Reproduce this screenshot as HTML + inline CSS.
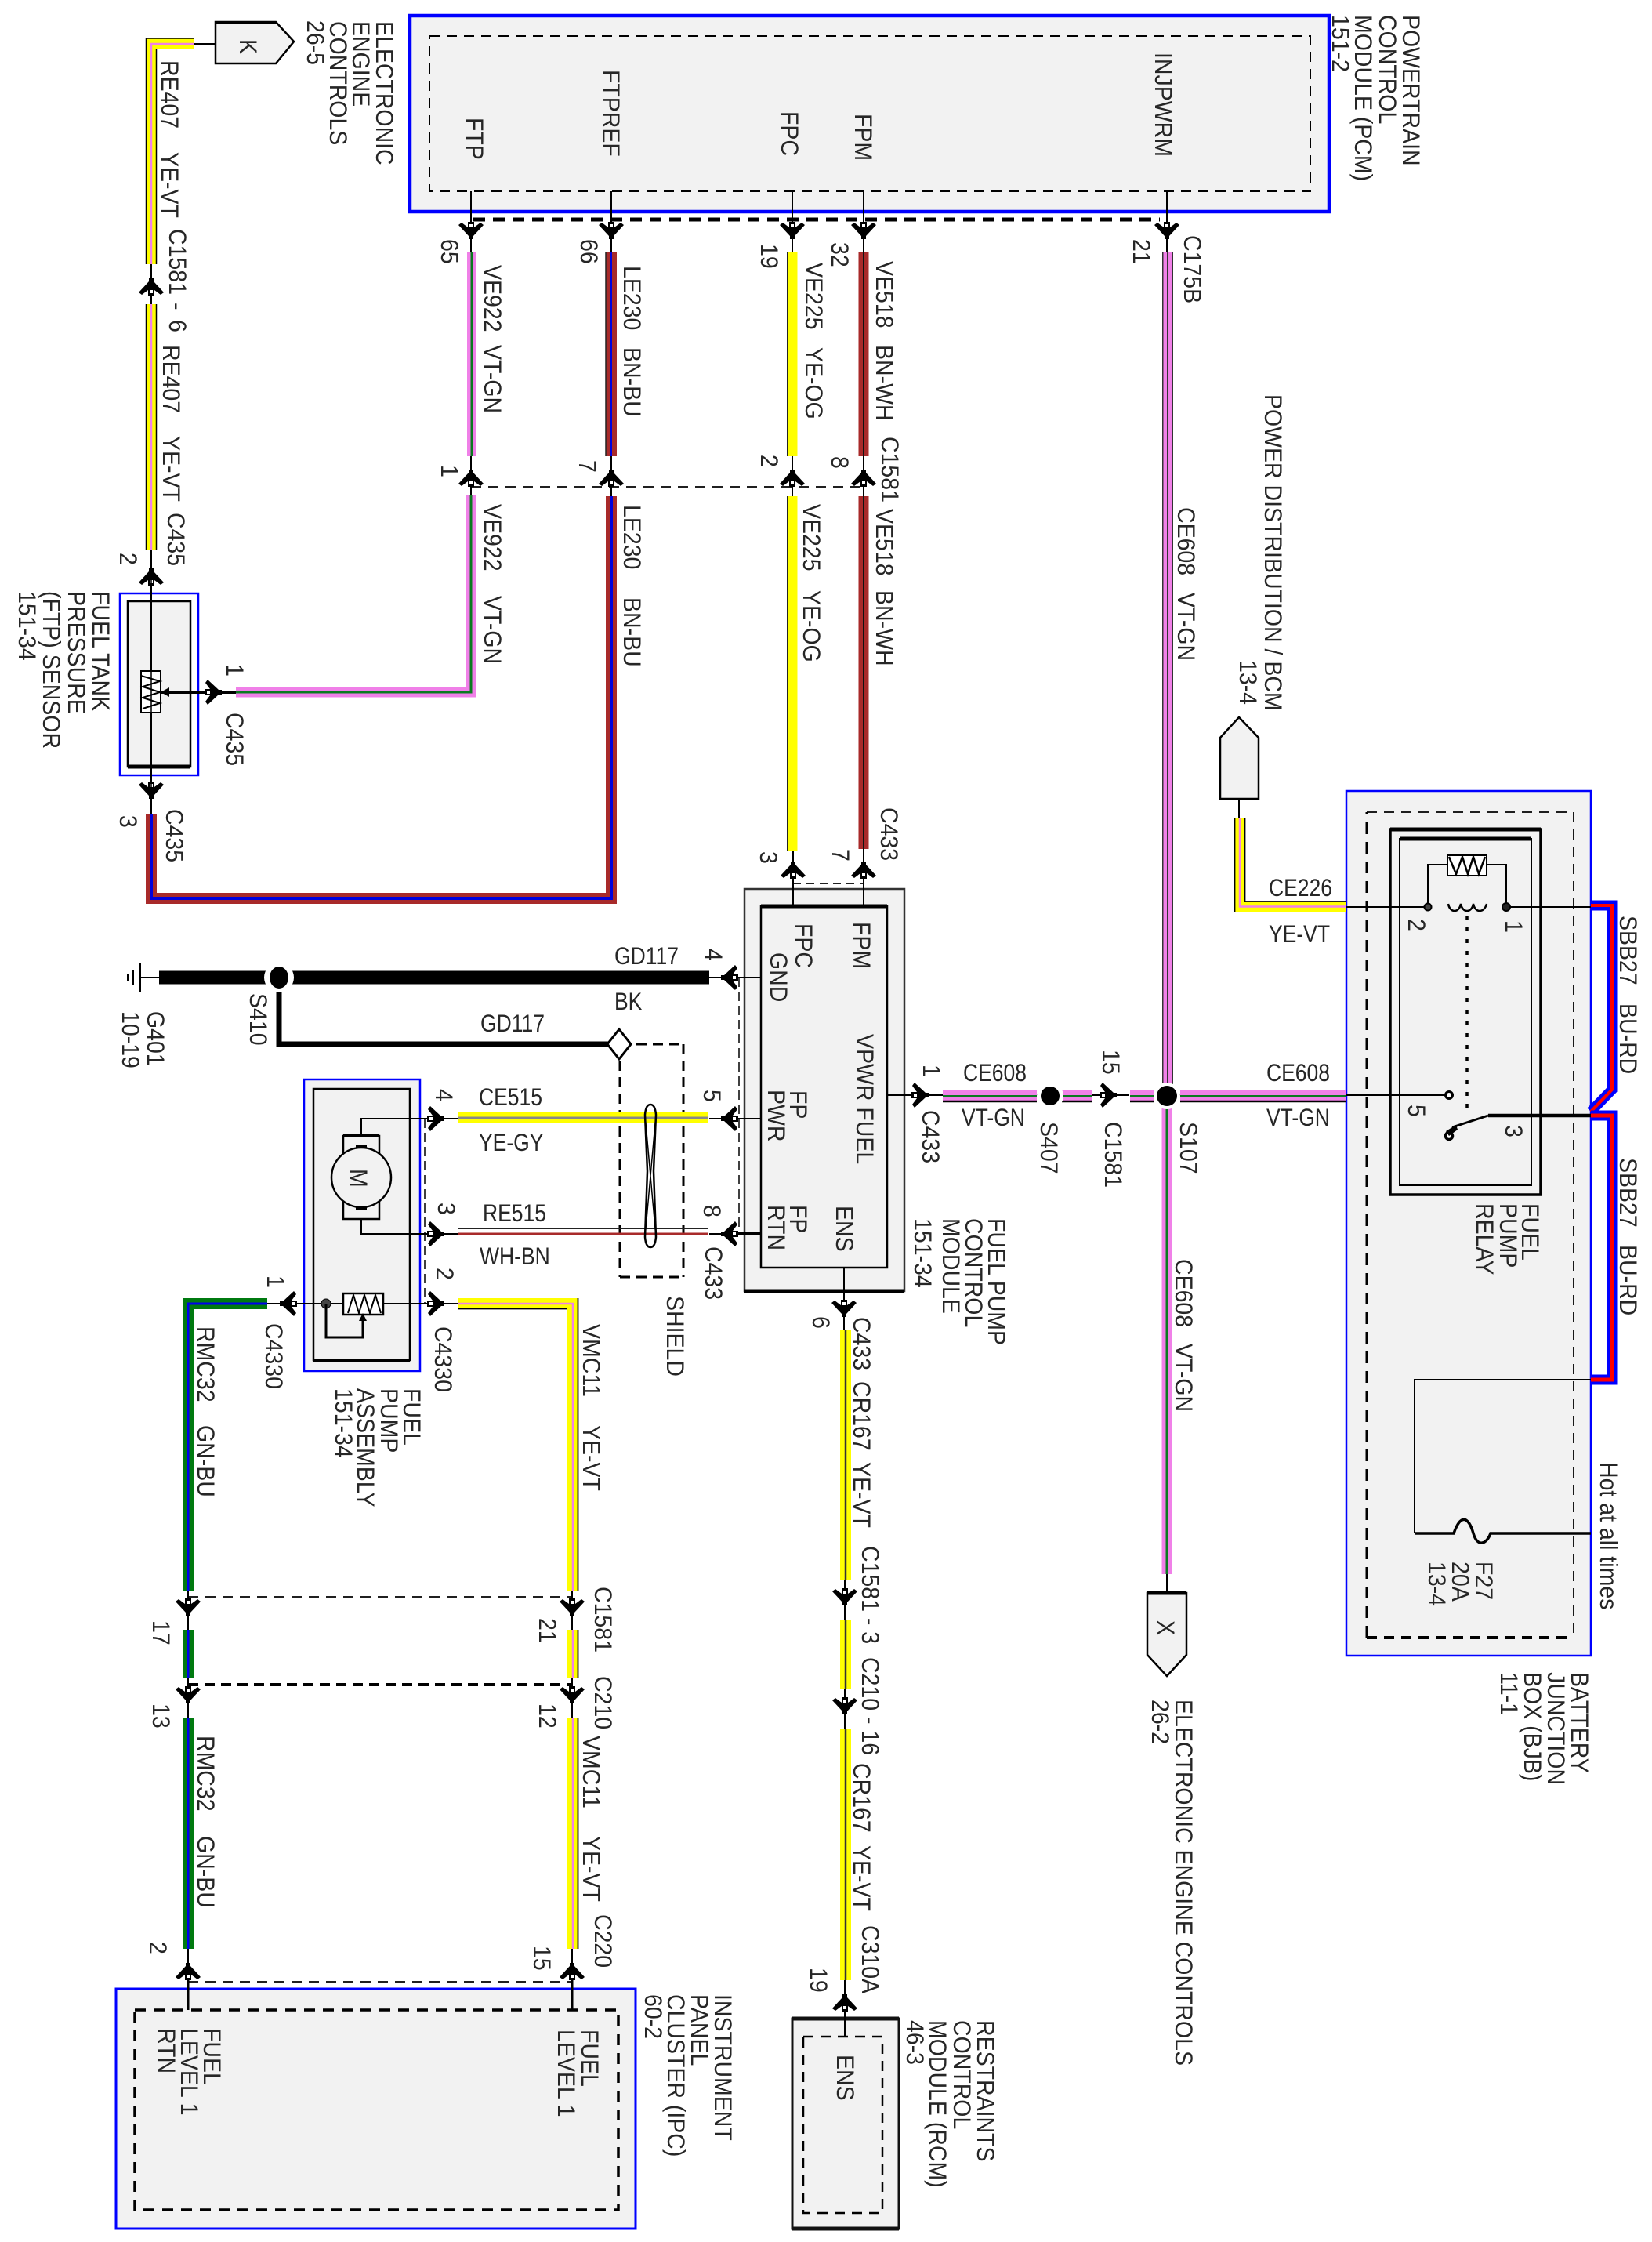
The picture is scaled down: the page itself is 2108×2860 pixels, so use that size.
<!DOCTYPE html>
<html><head><meta charset="utf-8"><style>
html,body{margin:0;padding:0;background:#fff}
svg{display:block}
text{font-family:"Liberation Sans",sans-serif;fill:#262626}
.r text{font-size:28.5px}
.h text{font-size:26.5px}
.n{fill:none}
.k{stroke:#000;fill:none}
</style></head><body>
<svg xmlns="http://www.w3.org/2000/svg" width="2108" height="2860" viewBox="0 0 2108 2860">
<defs>
<g id="a"><path d="M-16,-10 L-12,-13 L-4,-7 L-4,-14 L4,-14 L4,-7 L12,-13 L16,-10 L3,4 L3,8 L-3,8 L-3,4 Z" fill="#000"/><rect x="-2" y="-11" width="4" height="4" fill="#fff"/></g>
</defs>

<!-- Boxes -->
<rect x="523" y="20" width="1173" height="250" fill="#f2f2f2" stroke="#0000ff" stroke-width="4.5"/>
<rect x="548" y="46" width="1124" height="198" class="k" stroke-width="2" stroke-dasharray="13 9"/>
<path d="M275,28 H352 L375,53 L352,81 H275 Z" fill="#f2f2f2" stroke="#000" stroke-width="2.5"/>
<path d="M275,29 H352" stroke="#000" stroke-width="4"/>
<rect x="153" y="757" width="100" height="232" fill="#fff" stroke="#0000ff" stroke-width="2.5"/>
<rect x="163" y="767" width="80" height="211" fill="#f2f2f2" stroke="#000" stroke-width="2.5"/>
<path d="M163,978 H243" stroke="#000" stroke-width="5"/>
<rect x="950" y="1134" width="204" height="513" fill="#f2f2f2" stroke="#333" stroke-width="2.5"/>
<path d="M950,1647 H1154" stroke="#000" stroke-width="5"/>
<rect x="971" y="1156" width="161" height="461" fill="#f2f2f2" stroke="#000" stroke-width="2.5"/>
<path d="M971,1156 H1132" stroke="#000" stroke-width="5"/>
<rect x="388" y="1377" width="148" height="372" fill="#f2f2f2" stroke="#0000ff" stroke-width="2.5"/>
<rect x="400" y="1389" width="123" height="346" fill="#f2f2f2" stroke="#000" stroke-width="2.5"/>
<path d="M400,1735 H523" stroke="#000" stroke-width="4"/>
<rect x="1718" y="1009" width="312" height="1103" fill="#f2f2f2" stroke="#0000ff" stroke-width="2.5"/>
<path d="M1744,2089 V1036" class="k" stroke-width="3" stroke-dasharray="15 10"/>
<path d="M1744,1036 H2008 V2089" class="k" stroke-width="1.8" stroke-dasharray="13 9"/>
<path d="M1744,2089 H2008" class="k" stroke-width="4" stroke-dasharray="13 9"/>
<rect x="1774" y="1058" width="192" height="466" fill="#f2f2f2" stroke="#000" stroke-width="3.5"/>
<rect x="1786" y="1070" width="168" height="442" fill="#f2f2f2" stroke="#000" stroke-width="2"/>
<path d="M1774,1058 H1966" stroke="#000" stroke-width="5"/>
<path d="M1786,1070 H1954" stroke="#000" stroke-width="5"/>
<path d="M1557,1019 V941 L1581,915 L1606,941 V1019 Z" fill="#f2f2f2" stroke="#000" stroke-width="2.5"/>
<path d="M1464,2032 V2111 L1489,2138 L1514,2111 V2032 Z" fill="#f2f2f2" stroke="#000" stroke-width="2.5"/>
<path d="M1464,2032 H1514" stroke="#000" stroke-width="5"/>
<rect x="148" y="2537" width="663" height="306" fill="#f2f2f2" stroke="#0000ff" stroke-width="3"/>
<rect x="172" y="2564" width="617" height="255" class="k" stroke-width="3.5" stroke-dasharray="14 10"/>
<rect x="1011" y="2575" width="136" height="268" fill="#f2f2f2" stroke="#111" stroke-width="3"/>
<path d="M1011,2575 H1147 M1011,2843 H1147" stroke="#111" stroke-width="5"/>
<rect x="1025" y="2598" width="101" height="225" class="k" stroke-width="2.5" stroke-dasharray="13 9"/>

<!-- Dashed connector bars -->
<path d="M604,280 H1480" stroke-width="5" stroke-dasharray="15 10" class="k"/>
<path d="M601,621 H1102" stroke-width="1.8" stroke-dasharray="13 9" class="k"/>
<path d="M1012,1127 H1102" stroke-width="1.8" stroke-dasharray="10 7" class="k"/>
<path d="M943,1247 V1574" stroke-width="1.5" stroke-dasharray="12 6" class="k"/>
<path d="M542,1427 V1663" stroke-width="1.5" stroke-dasharray="12 6" class="k"/>
<path d="M240,2037 H730" stroke-width="1.8" stroke-dasharray="13 9" class="k"/>
<path d="M240,2149 H730" stroke-width="4" stroke-dasharray="13 8" class="k"/>
<path d="M240,2528 H730" stroke-width="1.8" stroke-dasharray="13 9" class="k"/>
<path d="M791,1332 V1629 M872,1332 V1629 M791,1332 H872 M791,1629 H872" stroke-width="3" stroke-dasharray="13 8" class="k"/>

<!-- thin stems -->
<g class="k" stroke-width="2">
<path d="M248,56 H275 M193,337 V388 M193,701 V1038"/>
<path d="M601,244 V321 M601,582 V631 M780,244 V321 M780,582 V633 M1011,244 V322 M1011,582 V633 M1102,244 V322 M1102,582 V633 M1489,244 V321"/>
<path d="M1012,1085 V1156 M1102,1083 V1156"/>
<path d="M1130,1397 H1203 M1323,1397 H1355 M1394,1397 H1441 M1473,1397 H1506"/>
<path d="M905,1247 H971 M905,1427 H971 M905,1574 H971"/>
<path d="M461,1449 V1427 H584 M461,1555 V1574 H584"/>
<path d="M341,1663 H585"/>
<path d="M1077,1617 V1697 M1078,2015 V2067 M1078,2155 V2206 M1078,2526 V2598"/>
<path d="M240,2030 V2079 M240,2141 V2192 M240,2486 V2564 M730,2030 V2079 M730,2141 V2192 M730,2486 V2564"/>
<path d="M1489,2008 V2032 M1581,1019 V1045"/>
<path d="M1717,1157 H1822 M1922,1157 H2030 M1717,1397 H1844"/>
<path d="M1805,1956 V1760 H2030"/>
<path d="M1822,1157 V1103 H1847 M1897,1103 H1922 V1157"/>
</g>
<path d="M240,2512 V2564 M730,2512 V2564" stroke="#000" stroke-width="3"/>
<path d="M205,883 H301" stroke="#000" stroke-width="4"/>
<path d="M928,1574 H971" stroke="#000" stroke-width="4"/>

<!-- Wires -->
<g fill="none" stroke-linejoin="miter">
<!-- RE407 -->
<path d="M248,56 H193 V337 M193,388 V701" stroke="#ffff00" stroke-width="14"/>
<path d="M248,56 H193 V337 M193,388 V701" stroke="#f080e8" stroke-width="2.5"/>
<path d="M248,49 H186.5 V337 M186.5,388 V701 M199.5,62 V337 M199.5,388 V701" stroke="#000" stroke-width="1.5"/>
<!-- VE922 -->
<path d="M602,321 V582" stroke="#f080e8" stroke-width="12"/><path d="M602,321 V582" stroke="#0a7a20" stroke-width="3"/>
<path d="M601,631 V883 H301" stroke="#f080e8" stroke-width="13"/><path d="M601,631 V883 H301" stroke="#0a7a20" stroke-width="3"/>
<!-- LE230 -->
<path d="M780,321 V582" stroke="#a82a2a" stroke-width="14"/><path d="M780,321 V582" stroke="#0000dd" stroke-width="2"/>
<path d="M773,321 V582" stroke="#222" stroke-width="1.5"/>
<path d="M193,1038 V1146 H780 V633" stroke="#a82a2a" stroke-width="14"/><path d="M193,1038 V1146 H780 V633" stroke="#0000dd" stroke-width="4"/>
<!-- VE225 -->
<path d="M1011,322 V582 M1011,633 V1085" stroke="#ffff00" stroke-width="13"/>
<path d="M1005,322 V582 M1005,633 V1085" stroke="#222" stroke-width="2"/>
<!-- VE518 -->
<path d="M1102,322 V582 M1102,633 V1083" stroke="#a82a2a" stroke-width="13"/><path d="M1102,322 V582 M1102,633 V1083" stroke="#111" stroke-width="2"/>
<!-- CE608 vertical -->
<path d="M1490,321 V1398" stroke="#333" stroke-width="14"/><path d="M1490,321 V1398" stroke="#f080e8" stroke-width="11"/><path d="M1490,321 V1398" stroke="#333" stroke-width="2"/>
<path d="M1489,1398 V2008" stroke="#f080e8" stroke-width="13"/><path d="M1489,1398 V2008" stroke="#0a7a20" stroke-width="3"/>
<!-- CE608 horizontal -->
<path d="M1203,1397.5 H1323 M1355,1397.5 H1394 M1442,1397.5 H1473 M1506,1397.5 H1717" stroke="#f080e8" stroke-width="13"/>
<path d="M1203,1398 H1323 M1355,1398 H1394 M1442,1398 H1473 M1506,1398 H1717" stroke="#0a7a20" stroke-width="2"/>
<path d="M1203,1405 H1323 M1355,1405 H1394 M1442,1405 H1473 M1506,1405 H1717" stroke="#000" stroke-width="2.5"/>
<!-- GD117 -->
<path d="M203,1247 H905" stroke="#000" stroke-width="17"/>
<path d="M356,1247 V1332 H791" stroke="#000" stroke-width="7"/>
<!-- CE515 -->
<path d="M584,1426 H904" stroke="#ffff00" stroke-width="14"/><path d="M584,1426 H904" stroke="#888" stroke-width="3"/>
<!-- RE515 -->
<path d="M584,1567 H904" stroke="#222" stroke-width="2"/><path d="M584,1574 H904" stroke="#a82a2a" stroke-width="3"/>
<!-- RMC32 -->
<path d="M341,1663 H240 V2030 M240,2079 V2141 M240,2192 V2486" stroke="#007a10" stroke-width="14"/>
<path d="M341,1663 H240 V2030 M240,2079 V2141 M240,2192 V2486" stroke="#0000ee" stroke-width="3"/>
<!-- VMC11 -->
<path d="M585,1663 H731 V2030 M731,2079 V2141 M731,2192 V2486" stroke="#ffff00" stroke-width="14"/>
<path d="M585,1663 H731 V2030 M731,2079 V2141 M731,2192 V2486" stroke="#f080e8" stroke-width="2.5"/>
<path d="M585,1669.5 H724 M737.5,1656 V2030 M737.5,2079 V2141 M737.5,2192 V2486" stroke="#000" stroke-width="1.8"/>
<!-- CR167 -->
<path d="M1079,1697 V2015 M1079,2067 V2155 M1079,2206 V2526" stroke="#ffff00" stroke-width="14"/>
<path d="M1079,1697 V2015 M1079,2067 V2155 M1079,2206 V2526" stroke="#333" stroke-width="2.5"/>
<!-- CE226 -->
<path d="M1582,1043 V1156.5 H1717" stroke="#ffff00" stroke-width="13"/>
<path d="M1582,1043 V1156.5 H1717" stroke="#f080e8" stroke-width="2.5"/>
<path d="M1575.5,1043 V1163 M1588.5,1043 V1150 H1717" stroke="#000" stroke-width="1.8"/>
<!-- SBB27 -->
<path d="M2030,1155 H2057 V1390 L2030,1418" stroke="#0000ff" stroke-width="13"/><path d="M2030,1155 H2057 V1390 L2030,1418" stroke="#ff0000" stroke-width="4"/>
<path d="M2030,1423 H2057 V1760 H2030" stroke="#0000ff" stroke-width="13"/><path d="M2030,1423 H2057 V1760 H2030" stroke="#ff0000" stroke-width="5"/>
</g>

<!-- Splices -->
<circle cx="356" cy="1247" r="19" fill="#fff"/><ellipse cx="356" cy="1247" rx="12" ry="14" fill="#000"/>
<circle cx="1340" cy="1398" r="17" fill="#fff"/><circle cx="1340" cy="1398" r="12" fill="#000"/>
<circle cx="1489" cy="1398" r="17" fill="#fff"/><circle cx="1489" cy="1398" r="13" fill="#000"/>
<path d="M790,1313 L805,1332 L790,1351 L775,1332 Z" fill="#fff" stroke="#000" stroke-width="3"/>

<!-- Ground -->
<path d="M179,1247 H203 M179,1228 V1265 M170,1237 V1257 M163,1242 V1252" stroke="#000" stroke-width="2" fill="none"/>

<!-- Connector arrows -->
<use href="#a" transform="translate(601,297)"/><use href="#a" transform="translate(780,297)"/>
<use href="#a" transform="translate(1011,297)"/><use href="#a" transform="translate(1102,297)"/><use href="#a" transform="translate(1489,297)"/>
<use href="#a" transform="translate(193,363) rotate(180)"/><use href="#a" transform="translate(193,733) rotate(180)"/>
<use href="#a" transform="translate(601,607) rotate(180)"/><use href="#a" transform="translate(780,607) rotate(180)"/>
<use href="#a" transform="translate(1011,607) rotate(180)"/><use href="#a" transform="translate(1102,607) rotate(180)"/>
<use href="#a" transform="translate(193,1011)"/>
<use href="#a" transform="translate(1012,1107) rotate(180)"/><use href="#a" transform="translate(1102,1107) rotate(180)"/>
<use href="#a" transform="translate(928,1247) rotate(90)"/><use href="#a" transform="translate(928,1427) rotate(90)"/><use href="#a" transform="translate(928,1574) rotate(90)"/>
<use href="#a" transform="translate(559,1427) rotate(-90)"/><use href="#a" transform="translate(559,1574) rotate(-90)"/><use href="#a" transform="translate(559,1663) rotate(-90)"/>
<use href="#a" transform="translate(365,1663) rotate(90)"/>
<use href="#a" transform="translate(275,883) rotate(-90)"/>
<use href="#a" transform="translate(1077,1672)"/>
<use href="#a" transform="translate(1078,2040)"/><use href="#a" transform="translate(1078,2179)"/><use href="#a" transform="translate(1078,2552) rotate(180)"/>
<use href="#a" transform="translate(240,2053)"/><use href="#a" transform="translate(240,2165)"/><use href="#a" transform="translate(240,2512) rotate(180)"/>
<use href="#a" transform="translate(730,2053)"/><use href="#a" transform="translate(730,2165)"/><use href="#a" transform="translate(730,2512) rotate(180)"/>
<use href="#a" transform="translate(1177,1397) rotate(-90)"/><use href="#a" transform="translate(1417,1397) rotate(-90)"/>
<path d="M205,883 L216,877 V889 Z" fill="#000"/>

<!-- FTP resistor -->
<rect x="180" y="856" width="25" height="53" fill="#fff" stroke="#000" stroke-width="2"/>
<path d="M180,862 L204,869 L182,876 L204,883 L182,890 L204,897 L182,904" class="k" stroke-width="2"/>
<path d="M193,733 V1011" stroke="#000" stroke-width="1.5"/>

<!-- Motor -->
<rect x="438" y="1449" width="46" height="106" fill="#f2f2f2" stroke="#000" stroke-width="2.5"/>
<path d="M438,1449 H484" stroke="#000" stroke-width="4"/>
<circle cx="461" cy="1502" r="38" fill="#f2f2f2" stroke="#000" stroke-width="2.5"/>
<rect x="454" y="1460" width="14" height="4" fill="#000"/><rect x="454" y="1540" width="14" height="4" fill="#000"/>

<!-- Pump sender -->
<rect x="438" y="1650" width="51" height="27" fill="#fff" stroke="#000" stroke-width="2.5"/>
<path d="M444,1675 L451,1652 L458,1675 L465,1652 L472,1675 L479,1652 L486,1675" class="k" stroke-width="2"/>
<circle cx="416" cy="1663" r="6" fill="#444" stroke="#000"/>
<path d="M416,1663 V1706 H463 V1680" class="k" stroke-width="3"/>
<path d="M463,1675 L458,1685 H468 Z" fill="#000"/>

<!-- Shield twist -->
<path d="M823,1422 Q824,1409 830,1409 Q836,1409 837,1422 L834,1494 L837,1578 Q836,1591 830,1591 Q824,1591 823,1578 L826,1494 Z" class="k" stroke-width="2.5"/>
<path d="M823,1422 L837,1578 M837,1422 L823,1578" class="k" stroke-width="1.5"/>

<!-- Relay -->
<rect x="1847" y="1091" width="50" height="26" fill="#fff" stroke="#000" stroke-width="2"/>
<path d="M1849,1093 L1858,1115 L1866,1093 L1873,1115 L1880,1093 L1887,1115 L1895,1093" class="k" stroke-width="2.5"/>
<circle cx="1822" cy="1157" r="4.5" fill="#444" stroke="#000" stroke-width="2"/><circle cx="1922" cy="1157" r="5" fill="#222" stroke="#000" stroke-width="2"/>
<path d="M1848,1153 C1850,1165 1862,1165 1864,1153 C1866,1165 1878,1165 1880,1153 C1882,1165 1894,1165 1897,1153" class="k" stroke-width="2.5"/>
<path d="M1872,1168 V1418" class="k" stroke-width="3.5" stroke-dasharray="5 10"/>
<circle cx="1849" cy="1397" r="4.5" fill="#fff" stroke="#000" stroke-width="3"/>
<circle cx="1849" cy="1449" r="4.5" fill="#fff" stroke="#000" stroke-width="3.5"/>
<path d="M1853,1438 L1899,1423" class="k" stroke-width="3"/>
<path d="M1899,1423 H2030" class="k" stroke-width="4.5"/>
<path d="M1845,1443 L1858,1435 L1860,1441 L1849,1449 Z" fill="#000"/>

<!-- Fuse -->
<path d="M1806,1956 H1855 C1864,1930 1874,1935 1880,1956 C1886,1976 1898,1968 1902,1956 H2030" class="k" stroke-width="3.5"/>

<!-- Rotated text -->
<g class="r">
<text transform="matrix(0 1 -1.12 0 480 27)">ELECTRONIC</text>
<text transform="matrix(0 1 -1.12 0 450 27)">ENGINE</text>
<text transform="matrix(0 1 -1.12 0 421 27)">CONTROLS</text>
<text transform="matrix(0 1 -1.12 0 392 26)">26-5</text>
<text transform="matrix(0 1 -1.12 0 306 50)">K</text>
<text transform="matrix(0 1 -1.12 0 595 150)">FTP</text>
<text transform="matrix(0 1 -1.12 0 769 89)">FTPREF</text>
<text transform="matrix(0 1 -1.12 0 997 142)">FPC</text>
<text transform="matrix(0 1 -1.12 0 1091 145)">FPM</text>
<text transform="matrix(0 1 -1.12 0 1474 67)">INJPWRM</text>
<text transform="matrix(0 1 -1.12 0 1790 19)">POWERTRAIN</text>
<text transform="matrix(0 1 -1.12 0 1760 19)">CONTROL</text>
<text transform="matrix(0 1 -1.12 0 1729 19)">MODULE (PCM)</text>
<text transform="matrix(0 1 -1.12 0 1700 19)">151-2</text>

<text transform="matrix(0 1 -1.12 0 206 77)">RE407</text>
<text transform="matrix(0 1 -1.12 0 206 194)">YE-VT</text>
<text transform="matrix(0 1 -1.12 0 216 292)">C1581</text>
<text transform="matrix(0 1 -1.12 0 216 386)">-</text>
<text transform="matrix(0 1 -1.12 0 216 408)">6</text>
<text transform="matrix(0 1 -1.12 0 208 440)">RE407</text>
<text transform="matrix(0 1 -1.12 0 208 556)">YE-VT</text>
<text transform="matrix(0 1 -1.12 0 214 654)">C435</text>
<text transform="matrix(0 1 -1.12 0 153 705)">2</text>

<text transform="matrix(0 1 -1.12 0 563 305)">65</text>
<text transform="matrix(0 1 -1.12 0 741 305)">66</text>
<text transform="matrix(0 1 -1.12 0 971 311)">19</text>
<text transform="matrix(0 1 -1.12 0 1061 309)">32</text>
<text transform="matrix(0 1 -1.12 0 1446 305)">21</text>
<text transform="matrix(0 1 -1.12 0 1511 300)">C175B</text>
<text transform="matrix(0 1 -1.12 0 618 338)">VE922</text>
<text transform="matrix(0 1 -1.12 0 618 440)">VT-GN</text>
<text transform="matrix(0 1 -1.12 0 796 339)">LE230</text>
<text transform="matrix(0 1 -1.12 0 796 443)">BN-BU</text>
<text transform="matrix(0 1 -1.12 0 1028 335)">VE225</text>
<text transform="matrix(0 1 -1.12 0 1028 443)">YE-OG</text>
<text transform="matrix(0 1 -1.12 0 1118 333)">VE518</text>
<text transform="matrix(0 1 -1.12 0 1118 440)">BN-WH</text>
<text transform="matrix(0 1 -1.12 0 1125 557)">C1581</text>
<text transform="matrix(0 1 -1.12 0 563 593)">1</text>
<text transform="matrix(0 1 -1.12 0 739 587)">7</text>
<text transform="matrix(0 1 -1.12 0 971 580)">2</text>
<text transform="matrix(0 1 -1.12 0 1061 582)">8</text>
<text transform="matrix(0 1 -1.12 0 618 643)">VE922</text>
<text transform="matrix(0 1 -1.12 0 618 760)">VT-GN</text>
<text transform="matrix(0 1 -1.12 0 796 644)">LE230</text>
<text transform="matrix(0 1 -1.12 0 796 762)">BN-BU</text>
<text transform="matrix(0 1 -1.12 0 1025 643)">VE225</text>
<text transform="matrix(0 1 -1.12 0 1025 753)">YE-OG</text>
<text transform="matrix(0 1 -1.12 0 1118 649)">VE518</text>
<text transform="matrix(0 1 -1.12 0 1118 753)">BN-WH</text>
<text transform="matrix(0 1 -1.12 0 1503 647)">CE608</text>
<text transform="matrix(0 1 -1.12 0 1503 756)">VT-GN</text>
<text transform="matrix(0 1 -1.12 0 1614 503)">POWER DISTRIBUTION / BCM</text>
<text transform="matrix(0 1 -1.12 0 1582 842)">13-4</text>

<text transform="matrix(0 1 -1.12 0 118 754)">FUEL TANK</text>
<text transform="matrix(0 1 -1.12 0 87 754)">PRESSURE</text>
<text transform="matrix(0 1 -1.12 0 55 754)">(FTP) SENSOR</text>
<text transform="matrix(0 1 -1.12 0 24 754)">151-34</text>
<text transform="matrix(0 1 -1.12 0 289 847)">1</text>
<text transform="matrix(0 1 -1.12 0 289 909)">C435</text>
<text transform="matrix(0 1 -1.12 0 212 1032)">C435</text>
<text transform="matrix(0 1 -1.12 0 153 1040)">3</text>
<text transform="matrix(0 1 -1.12 0 970 1086)">3</text>
<text transform="matrix(0 1 -1.12 0 1062 1083)">7</text>
<text transform="matrix(0 1 -1.12 0 1124 1030)">C433</text>

<text transform="matrix(0 1 -1.12 0 1015 1178)">FPC</text>
<text transform="matrix(0 1 -1.12 0 983 1215)">GND</text>
<text transform="matrix(0 1 -1.12 0 1089 1176)">FPM</text>
<text transform="matrix(0 1 -1.12 0 1093 1319)">VPWR FUEL</text>
<text transform="matrix(0 1 -1.12 0 1008 1391)">FP</text>
<text transform="matrix(0 1 -1.12 0 980 1390)">PWR</text>
<text transform="matrix(0 1 -1.12 0 1008 1537)">FP</text>
<text transform="matrix(0 1 -1.12 0 980 1537)">RTN</text>
<text transform="matrix(0 1 -1.12 0 1067 1538)">ENS</text>

<text transform="matrix(0 1 -1.12 0 900 1210)">4</text>
<text transform="matrix(0 1 -1.12 0 556 1389)">4</text>
<text transform="matrix(0 1 -1.12 0 898 1390)">5</text>
<text transform="matrix(0 1 -1.12 0 559 1534)">3</text>
<text transform="matrix(0 1 -1.12 0 898 1537)">8</text>
<text transform="matrix(0 1 -1.12 0 900 1590)">C433</text>
<text transform="matrix(0 1 -1.12 0 557 1617)">2</text>
<text transform="matrix(0 1 -1.12 0 341 1627)">1</text>
<text transform="matrix(0 1 -1.12 0 339 1688)">C4330</text>
<text transform="matrix(0 1 -1.12 0 555 1692)">C4330</text>
<text transform="matrix(0 1 -1.12 0 252 1692)">RMC32</text>
<text transform="matrix(0 1 -1.12 0 252 1818)">GN-BU</text>
<text transform="matrix(0 1 -1.12 0 744 1689)">VMC11</text>
<text transform="matrix(0 1 -1.12 0 744 1818)">YE-VT</text>
<text transform="matrix(0 1 -1.12 0 851 1653)">SHIELD</text>
<text transform="matrix(0 1 -1.12 0 319 1267)">S410</text>
<text transform="matrix(0 1 -1.12 0 188 1290)">G401</text>
<text transform="matrix(0 1 -1.12 0 156 1290)">10-19</text>
<text transform="matrix(0 1 -1.12 0 447 1491)">M</text>
<text transform="matrix(0 1 -1.12 0 515 1771)">FUEL</text>
<text transform="matrix(0 1 -1.12 0 486 1771)">PUMP</text>
<text transform="matrix(0 1 -1.12 0 456 1771)">ASSEMBLY</text>
<text transform="matrix(0 1 -1.12 0 428 1771)">151-34</text>

<text transform="matrix(0 1 -1.12 0 1037 1679)">6</text>
<text transform="matrix(0 1 -1.12 0 1089 1680)">C433</text>
<text transform="matrix(0 1 -1.12 0 1089 1762)">CR167</text>
<text transform="matrix(0 1 -1.12 0 1089 1865)">YE-VT</text>
<text transform="matrix(0 1 -1.12 0 1100 1972)">C1581 - 3</text>
<text transform="matrix(0 1 -1.12 0 1100 2114)">C210 - 16</text>
<text transform="matrix(0 1 -1.12 0 1089 2249)">CR167</text>
<text transform="matrix(0 1 -1.12 0 1089 2354)">YE-VT</text>
<text transform="matrix(0 1 -1.12 0 1100 2456)">C310A</text>
<text transform="matrix(0 1 -1.12 0 1034 2510)">19</text>
<text transform="matrix(0 1 -1.12 0 195 2067)">17</text>
<text transform="matrix(0 1 -1.12 0 195 2173)">13</text>
<text transform="matrix(0 1 -1.12 0 191 2477)">2</text>
<text transform="matrix(0 1 -1.12 0 688 2064)">21</text>
<text transform="matrix(0 1 -1.12 0 688 2173)">12</text>
<text transform="matrix(0 1 -1.12 0 681 2482)">15</text>
<text transform="matrix(0 1 -1.12 0 759 2024)">C1581</text>
<text transform="matrix(0 1 -1.12 0 759 2138)">C210</text>
<text transform="matrix(0 1 -1.12 0 744 2214)">VMC11</text>
<text transform="matrix(0 1 -1.12 0 744 2342)">YE-VT</text>
<text transform="matrix(0 1 -1.12 0 759 2442)">C220</text>
<text transform="matrix(0 1 -1.12 0 252 2214)">RMC32</text>
<text transform="matrix(0 1 -1.12 0 252 2342)">GN-BU</text>

<text transform="matrix(0 1 -1.12 0 260 2587)">FUEL</text>
<text transform="matrix(0 1 -1.12 0 231 2587)">LEVEL 1</text>
<text transform="matrix(0 1 -1.12 0 202 2587)">RTN</text>
<text transform="matrix(0 1 -1.12 0 742 2589)">FUEL</text>
<text transform="matrix(0 1 -1.12 0 712 2589)">LEVEL 1</text>
<text transform="matrix(0 1 -1.12 0 912 2544)">INSTRUMENT</text>
<text transform="matrix(0 1 -1.12 0 882 2544)">PANEL</text>
<text transform="matrix(0 1 -1.12 0 852 2544)">CLUSTER (IPC)</text>
<text transform="matrix(0 1 -1.12 0 823 2544)">60-2</text>
<text transform="matrix(0 1 -1.12 0 1068 2621)">ENS</text>
<text transform="matrix(0 1 -1.12 0 1247 2577)">RESTRAINTS</text>
<text transform="matrix(0 1 -1.12 0 1217 2577)">CONTROL</text>
<text transform="matrix(0 1 -1.12 0 1186 2577)">MODULE (RCM)</text>
<text transform="matrix(0 1 -1.12 0 1157 2577)">46-3</text>
<text transform="matrix(0 1 -1.12 0 1477 2067)">X</text>
<text transform="matrix(0 1 -1.12 0 1500 2168)">ELECTRONIC ENGINE CONTROLS</text>
<text transform="matrix(0 1 -1.12 0 1470 2168)">26-2</text>

<text transform="matrix(0 1 -1.12 0 1883 1992)">F27</text>
<text transform="matrix(0 1 -1.12 0 1853 1992)">20A</text>
<text transform="matrix(0 1 -1.12 0 1823 1992)">13-4</text>
<text transform="matrix(0 1 -1.12 0 2042 1865)">Hot at all times</text>
<text transform="matrix(0 1 -1.12 0 2005 2133)">BATTERY</text>
<text transform="matrix(0 1 -1.12 0 1975 2133)">JUNCTION</text>
<text transform="matrix(0 1 -1.12 0 1945 2133)">BOX (BJB)</text>
<text transform="matrix(0 1 -1.12 0 1915 2133)">11-1</text>

<text transform="matrix(0 1 -1.12 0 1178 1358)">1</text>
<text transform="matrix(0 1 -1.12 0 1177 1416)">C433</text>
<text transform="matrix(0 1 -1.12 0 1328 1431)">S407</text>
<text transform="matrix(0 1 -1.12 0 1407 1339)">15</text>
<text transform="matrix(0 1 -1.12 0 1410 1431)">C1581</text>
<text transform="matrix(0 1 -1.12 0 1506 1431)">S107</text>
<text transform="matrix(0 1 -1.12 0 1500 1606)">CE608</text>
<text transform="matrix(0 1 -1.12 0 1500 1714)">VT-GN</text>
<text transform="matrix(0 1 -1.12 0 1261 1554)">FUEL PUMP</text>
<text transform="matrix(0 1 -1.12 0 1232 1554)">CONTROL</text>
<text transform="matrix(0 1 -1.12 0 1203 1554)">MODULE</text>
<text transform="matrix(0 1 -1.12 0 1167 1554)">151-34</text>
<text transform="matrix(0 1 -1.12 0 1797 1172)">2</text>
<text transform="matrix(0 1 -1.12 0 1921 1174)">1</text>
<text transform="matrix(0 1 -1.12 0 1797 1409)">5</text>
<text transform="matrix(0 1 -1.12 0 1921 1435)">3</text>
<text transform="matrix(0 1 -1.12 0 2067 1168)">SBB27</text>
<text transform="matrix(0 1 -1.12 0 2067 1280)">BU-RD</text>
<text transform="matrix(0 1 -1.12 0 2067 1477)">SBB27</text>
<text transform="matrix(0 1 -1.12 0 2067 1588)">BU-RD</text>
<text transform="matrix(0 1 -1.12 0 1942 1535)">FUEL</text>
<text transform="matrix(0 1 -1.12 0 1914 1535)">PUMP</text>
<text transform="matrix(0 1 -1.12 0 1884 1535)">RELAY</text>
</g>

<!-- Horizontal text -->
<g class="h">
<text transform="matrix(1 0 0 1.17 784 1230)">GD117</text>
<text transform="matrix(1 0 0 1.17 784 1288)">BK</text>
<text transform="matrix(1 0 0 1.17 613 1316)">GD117</text>
<text transform="matrix(1 0 0 1.17 611 1410)">CE515</text>
<text transform="matrix(1 0 0 1.17 611 1468)">YE-GY</text>
<text transform="matrix(1 0 0 1.17 616 1558)">RE515</text>
<text transform="matrix(1 0 0 1.17 612 1613)">WH-BN</text>
<text transform="matrix(1 0 0 1.17 1229 1379)">CE608</text>
<text transform="matrix(1 0 0 1.17 1227 1436)">VT-GN</text>
<text transform="matrix(1 0 0 1.17 1616 1379)">CE608</text>
<text transform="matrix(1 0 0 1.17 1616 1436)">VT-GN</text>
<text transform="matrix(1 0 0 1.17 1619 1143)">CE226</text>
<text transform="matrix(1 0 0 1.17 1619 1202)">YE-VT</text>
</g>
</svg>
</body></html>
